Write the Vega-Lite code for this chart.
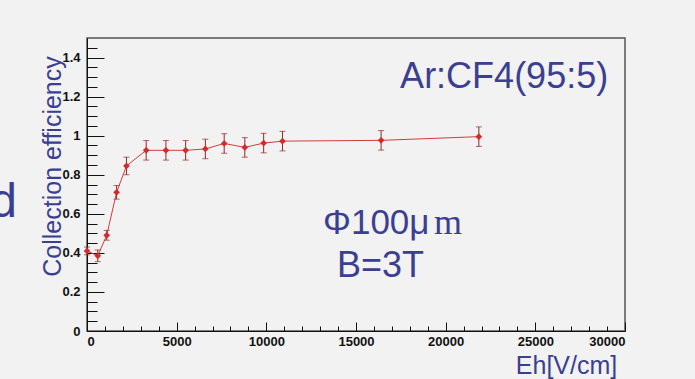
{
  "$schema": "https://vega.github.io/schema/vega-lite/v6.json",
  "width": 538,
  "height": 293,
  "autosize": {"type": "none"},
  "padding": {"left": 87, "top": 38, "right": 70, "bottom": 48},
  "background": "#f2f2f2",
  "config": {
    "view": {"stroke": "#555555", "strokeWidth": 1.5},
    "axis": {
      "labelFont": "Liberation Sans",
      "labelFontWeight": "bold",
      "labelFontSize": 13,
      "labelColor": "#111111",
      "domainColor": "#111111",
      "tickColor": "#111111",
      "grid": false,
      "titleFont": "Liberation Sans",
      "titleColor": "#3b3f91",
      "titleFontWeight": "normal"
    },
    "text": {"font": "Liberation Sans", "fill": "#3b3f91", "fontWeight": "normal"}
  },
  "data": {
    "values": [
      {"Eh": 0, "eff": 0.41, "err": 0.02},
      {"Eh": 600, "eff": 0.385, "err": 0.03},
      {"Eh": 1100, "eff": 0.49, "err": 0.025},
      {"Eh": 1650, "eff": 0.71, "err": 0.035},
      {"Eh": 2200, "eff": 0.845, "err": 0.045},
      {"Eh": 3300, "eff": 0.925, "err": 0.05},
      {"Eh": 4400, "eff": 0.925, "err": 0.05},
      {"Eh": 5500, "eff": 0.925, "err": 0.05},
      {"Eh": 6600, "eff": 0.932, "err": 0.05},
      {"Eh": 7650, "eff": 0.96, "err": 0.05},
      {"Eh": 8800, "eff": 0.94, "err": 0.05},
      {"Eh": 9850, "eff": 0.962, "err": 0.05},
      {"Eh": 10900, "eff": 0.972, "err": 0.05},
      {"Eh": 16400, "eff": 0.976, "err": 0.05},
      {"Eh": 21850, "eff": 0.995, "err": 0.05}
    ]
  },
  "resolve": {"axis": {"x": "independent", "y": "independent"}},
  "layer": [
    {
      "mark": {"type": "line", "color": "#d63b3b", "strokeWidth": 1},
      "encoding": {
        "x": {"field": "Eh", "type": "quantitative",
          "scale": {"domain": [0, 30000], "nice": false, "zero": false},
          "axis": {"orient": "bottom", "values": [1000,2000,3000,4000,6000,7000,8000,9000,11000,12000,13000,14000,16000,17000,18000,19000,21000,22000,23000,24000,26000,27000,28000,29000],
            "labels": false, "domain": false, "tickSize": -5, "title": null}},
        "y": {"field": "eff", "type": "quantitative",
          "scale": {"domain": [0, 1.5], "nice": false, "zero": false},
          "axis": {"orient": "left", "values": [0.05,0.1,0.15,0.25,0.3,0.35,0.45,0.5,0.55,0.65,0.7,0.75,0.85,0.9,0.95,1.05,1.1,1.15,1.25,1.3,1.35,1.45],
            "labels": false, "domain": false, "tickSize": -10, "title": null}}
      }
    },
    {
      "mark": {"type": "errorbar", "ticks": {"size": 6, "color": "#8e2a2a"}, "rule": {"color": "#8e2a2a", "strokeWidth": 1}},
      "encoding": {
        "x": {"field": "Eh", "type": "quantitative", "axis": null},
        "y": {"field": "eff", "type": "quantitative", "axis": null},
        "yError": {"field": "err"}
      }
    },
    {
      "mark": {"type": "point", "shape": "diamond", "filled": true, "size": 45, "color": "#d42a2a", "opacity": 1},
      "encoding": {
        "x": {"field": "Eh", "type": "quantitative",
          "axis": {"orient": "bottom", "values": [0,5000,10000,15000,20000,25000,30000], "format": "d",
            "tickSize": -9, "labelPadding": 13, "labelBaseline": "top",
            "title": "Eh[V/cm]", "titleFontSize": 25, "titleX": 479, "titleY": 42,
            "titleBaseline": "alphabetic", "titleAlign": "center"}},
        "y": {"field": "eff", "type": "quantitative",
          "axis": {"orient": "left", "values": [0,0.2,0.4,0.6,0.8,1,1.2,1.4], "format": "~g",
            "tickSize": -17, "labelPadding": 24,
            "title": "Collection efficiency", "titleFontSize": 25, "titleX": -27, "titleY": 128,
            "titleAngle": 270, "titleBaseline": "alphabetic", "titleAlign": "center"}}
      }
    },
    {
      "data": {"values": [{"label": "Ar:CF4(95:5)"}]},
      "mark": {"type": "text", "fontSize": 36, "align": "left", "baseline": "alphabetic"},
      "encoding": {"text": {"field": "label"}, "x": {"datum": 17460, "type": "quantitative", "axis": null}, "y": {"datum": 1.246, "type": "quantitative", "axis": null}}
    },
    {
      "data": {"values": [{"label": "Φ100μ"}]},
      "mark": {"type": "text", "fontSize": 35, "align": "left", "baseline": "alphabetic"},
      "encoding": {"text": {"field": "label"}, "x": {"datum": 13160, "type": "quantitative", "axis": null}, "y": {"datum": 0.498, "type": "quantitative", "axis": null}}
    },
    {
      "data": {"values": [{"label": "m"}]},
      "mark": {"type": "text", "font": "Liberation Serif", "fontSize": 36, "align": "left", "baseline": "alphabetic"},
      "encoding": {"text": {"field": "label"}, "x": {"datum": 19350, "type": "quantitative", "axis": null}, "y": {"datum": 0.498, "type": "quantitative", "axis": null}}
    },
    {
      "data": {"values": [{"label": "B=3T"}]},
      "mark": {"type": "text", "fontSize": 36, "align": "left", "baseline": "alphabetic"},
      "encoding": {"text": {"field": "label"}, "x": {"datum": 13940, "type": "quantitative", "axis": null}, "y": {"datum": 0.274, "type": "quantitative", "axis": null}}
    },
    {
      "data": {"values": [{"label": "d"}]},
      "mark": {"type": "text", "fontSize": 48, "align": "right", "baseline": "alphabetic"},
      "encoding": {"text": {"field": "label"}, "x": {"datum": -3900, "type": "quantitative", "axis": null}, "y": {"datum": 0.584, "type": "quantitative", "axis": null}}
    }
  ]
}
